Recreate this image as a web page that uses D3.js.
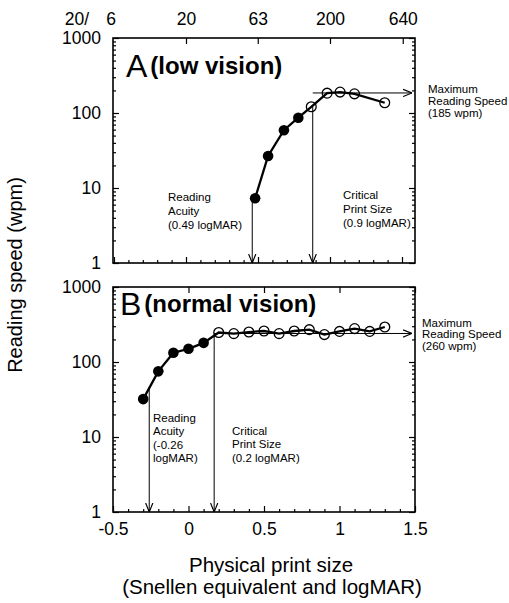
<!DOCTYPE html>
<html>
<head>
<meta charset="utf-8">
<script src="https://cdn.jsdelivr.net/npm/d3@7"></script>
<style>
  body { margin: 0; background: #fff; }
  text { font-family: Arial, "Liberation Sans", sans-serif; fill: #000; }
</style>
</head>
<body>
<svg id="chart" width="509" height="603"></svg>
<script>
// Panel A (low vision): logMAR on panel A's own x scale, speed in wpm
const aFilledX = [0.48, 0.57, 0.68, 0.78];
const aFilledY = [7.3, 26.7, 59, 86.5];
const aOpenX = [0.87, 0.98, 1.07, 1.17, 1.38];
const aOpenY = [121, 184, 190, 180, 137];
const aMarks = { acuity: 0.46, cps: 0.88, max: 185 };

// Panel B (normal vision)
const bFilledX = [-0.3, -0.2, -0.1, 0, 0.1];
const bFilledY = [32, 75, 133, 150, 180];
const bOpenX = [0.2, 0.3, 0.4, 0.5, 0.6, 0.7, 0.8, 0.9, 1.0, 1.1, 1.2, 1.3];
const bOpenY = [247, 239, 251, 259, 239, 259, 270, 232, 256, 279, 256, 293];
const bMarks = { acuity: -0.26, cps: 0.17, max: 240 };

// axis ticks
const snellen = [6, 20, 63, 200, 640];
const xTicks = [-0.5, 0, 0.5, 1, 1.5];
const yTicks = [1, 10, 100, 1000];

const svg = d3.select('#chart');
const frameL = 113, frameR = 415;
const FONT = 17.5;

svg.append('defs').append('marker')
  .attr('id', 'arrow')
  .attr('viewBox', '0 0 10 10')
  .attr('refX', 10).attr('refY', 5)
  .attr('markerWidth', 9).attr('markerHeight', 9)
  .attr('markerUnits', 'userSpaceOnUse')
  .attr('orient', 'auto')
  .append('path')
  .attr('d', 'M0,1 L10,5 L0,9')
  .attr('fill', 'none').attr('stroke', '#000').attr('stroke-width', 1.3);

const minorY = [];
[1, 10, 100].forEach(d => { for (let k = 2; k <= 9; k++) minorY.push(d * k); });
const minorX = d3.range(-5, 16).map(i => i / 10).filter(v => Math.abs(v * 2 - Math.round(v * 2)) > 1e-6);

function styleAxis(g) {
  g.select('.domain').remove();
  g.selectAll('.tick line').attr('stroke', '#000').attr('stroke-width', 1.2);
  g.attr('font-family', null).attr('font-size', FONT);
  g.selectAll('text').attr('fill', '#000');
}

// log-linear interpolation along a curve, clamped at the ends
function yAt(xs, ys, x) {
  if (x <= xs[0]) return ys[0];
  if (x >= xs[xs.length - 1]) return ys[ys.length - 1];
  const i = d3.bisectRight(xs, x) - 1;
  const t = (x - xs[i]) / (xs[i + 1] - xs[i]);
  return Math.pow(10, Math.log10(ys[i]) + t * (Math.log10(ys[i + 1]) - Math.log10(ys[i])));
}

function drawPanel(p) {
  const x = p.x;
  const y = d3.scaleLog().domain([1, 1000]).range([p.bottom, p.top]);
  const g = svg.append('g');

  // left y axis (labelled) + minor ticks
  g.append('g').attr('transform', `translate(${frameL},0)`)
    .call(d3.axisLeft(y).tickValues(yTicks).tickSizeInner(-6).tickSizeOuter(0)
      .tickPadding(12).tickFormat(d3.format('d')))
    .call(styleAxis);
  g.append('g').attr('transform', `translate(${frameL},0)`)
    .call(d3.axisLeft(y).tickValues(minorY).tickSize(-3).tickFormat(''))
    .call(styleAxis);
  // right y axis
  g.append('g').attr('transform', `translate(${frameR},0)`)
    .call(d3.axisRight(y).tickValues(yTicks).tickSize(-6).tickFormat(''))
    .call(styleAxis);
  g.append('g').attr('transform', `translate(${frameR},0)`)
    .call(d3.axisRight(y).tickValues(minorY).tickSize(-3).tickFormat(''))
    .call(styleAxis);

  // bottom x axis
  const bottomAx = d3.axisBottom(x).tickValues(xTicks).tickSizeInner(-6).tickSizeOuter(0).tickPadding(11);
  bottomAx.tickFormat(p.xLabels ? (d => String(d)) : '');
  g.append('g').attr('transform', `translate(0,${p.bottom})`).call(bottomAx).call(styleAxis);
  g.append('g').attr('transform', `translate(0,${p.bottom})`)
    .call(d3.axisBottom(x).tickValues(minorX).tickSize(-3).tickFormat(''))
    .call(styleAxis);

  // top axis
  if (p.snellen) {
    const sx = snellen.map(d => Math.log10(d / 20));
    const top = g.append('g').attr('transform', `translate(0,${p.top})`)
      .call(d3.axisTop(x).tickValues(sx).tickSizeInner(-6).tickSizeOuter(0).tickPadding(13)
        .tickFormat((d, i) => snellen[i]))
      .call(styleAxis);
    top.selectAll('.tick line').filter(d => x(d) < frameL).remove();
    svg.append('text').attr('x', 89).attr('y', p.top - 13)
      .attr('text-anchor', 'end').attr('font-size', FONT).text('20/');
  } else {
    g.append('g').attr('transform', `translate(0,${p.top})`)
      .call(d3.axisTop(x).tickValues(xTicks).tickSize(-6).tickFormat(''))
      .call(styleAxis);
  }

  // frame
  g.append('rect').attr('x', frameL).attr('y', p.top)
    .attr('width', frameR - frameL).attr('height', p.bottom - p.top)
    .attr('fill', 'none').attr('stroke', '#000').attr('stroke-width', 1.6);

  const xs = p.filledX.concat(p.openX);
  const ys = p.filledY.concat(p.openY);

  // arrows
  const arrows = [
    [p.marks.acuity, y(yAt(xs, ys, p.marks.acuity)), p.marks.acuity, p.bottom],
    [p.marks.cps, y(yAt(xs, ys, p.marks.cps)), p.marks.cps, p.bottom]
  ];
  arrows.forEach(a => {
    g.append('line').attr('x1', x(a[0])).attr('y1', a[1]).attr('x2', x(a[2])).attr('y2', a[3])
      .attr('stroke', '#000').attr('stroke-width', 1).attr('marker-end', 'url(#arrow)');
  });
  g.append('line').attr('x1', x(p.marks.cps)).attr('y1', y(p.marks.max))
    .attr('x2', frameR - 3).attr('y2', y(p.marks.max))
    .attr('stroke', '#000').attr('stroke-width', 1).attr('marker-end', 'url(#arrow)');

  // data line
  const line = d3.line().x(d => x(d[0])).y(d => y(d[1]));
  g.append('path').datum(xs.map((v, i) => [v, ys[i]]))
    .attr('d', line).attr('fill', 'none').attr('stroke', '#000').attr('stroke-width', 2.3);

  g.selectAll('.filled').data(p.filledX.map((v, i) => [v, p.filledY[i]])).enter()
    .append('circle').attr('cx', d => x(d[0])).attr('cy', d => y(d[1])).attr('r', 5.3)
    .attr('fill', '#000');
  g.selectAll('.open').data(p.openX.map((v, i) => [v, p.openY[i]])).enter()
    .append('circle').attr('cx', d => x(d[0])).attr('cy', d => y(d[1])).attr('r', 4.9)
    .attr('fill', 'none').attr('stroke', '#000').attr('stroke-width', 1.3);

  // panel label
  const lab = g.append('text').attr('x', p.label.x).attr('y', p.label.y);
  lab.append('tspan').attr('font-size', 32).text(p.label.letter);
  lab.append('tspan').attr('font-size', 24).attr('font-weight', 'bold').attr('dx', 3)
    .attr('dy', -3).text(p.label.text);

  // annotations
  p.notes.forEach(n => {
    n.lines.forEach((t, i) => {
      g.append('text').attr('x', n.x).attr('y', n.y + i * n.dy)
        .attr('font-size', 11.5).text(t);
    });
  });
}

drawPanel({
  top: 38, bottom: 263,
  x: d3.scaleLinear().domain([0, 1]).range([186, 330]),
  snellen: true, xLabels: false,
  filledX: aFilledX, filledY: aFilledY, openX: aOpenX, openY: aOpenY, marks: aMarks,
  label: { x: 126, y: 77, letter: 'A', text: '(low vision)' },
  notes: [
    { x: 168, y: 201, dy: 13.8, lines: ['Reading', 'Acuity', '(0.49 logMAR)'] },
    { x: 343, y: 199, dy: 13.8, lines: ['Critical', 'Print Size', '(0.9 logMAR)'] },
    { x: 428, y: 93, dy: 11.8, lines: ['Maximum', 'Reading Speed', '(185 wpm)'] }
  ]
});

drawPanel({
  top: 287, bottom: 512,
  x: d3.scaleLinear().domain([-0.5, 1.5]).range([frameL, frameR]),
  snellen: false, xLabels: true,
  filledX: bFilledX, filledY: bFilledY, openX: bOpenX, openY: bOpenY, marks: bMarks,
  label: { x: 120, y: 315, letter: 'B', text: '(normal vision)' },
  notes: [
    { x: 153, y: 422, dy: 13.3, lines: ['Reading', 'Acuity', '(-0.26', 'logMAR)'] },
    { x: 232, y: 435, dy: 13.3, lines: ['Critical', 'Print Size', '(0.2 logMAR)'] },
    { x: 422, y: 326.5, dy: 11.8, lines: ['Maximum', 'Reading Speed', '(260 wpm)'] }
  ]
});

// axis titles
svg.append('text').attr('transform', 'translate(22,275) rotate(-90)')
  .attr('text-anchor', 'middle').attr('font-size', 20).text('Reading speed (wpm)');
svg.append('text').attr('x', 271).attr('y', 572).attr('text-anchor', 'middle')
  .attr('font-size', 20.5).text('Physical print size');
svg.append('text').attr('x', 272).attr('y', 594).attr('text-anchor', 'middle')
  .attr('font-size', 20.5).text('(Snellen equivalent and logMAR)');
</script>
</body>
</html>
